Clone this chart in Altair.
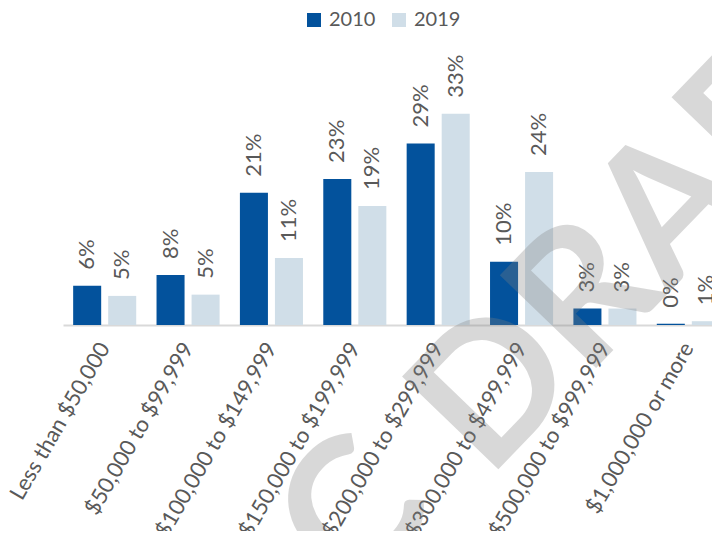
import altair as alt
import pandas as pd

categories = [
    "Less than $50,000",
    "$50,000 to $99,999",
    "$100,000 to $149,999",
    "$150,000 to $199,999",
    "$200,000 to $299,999",
    "$300,000 to $499,999",
    "$500,000 to $999,999",
    "$1,000,000 or more",
]
years = ["2010", "2019"]
values_2010 = [6.2, 7.9, 20.9, 23.1, 28.7, 10.0, 2.6, 0.2]
values_2019 = [4.6, 4.8, 10.6, 18.8, 33.4, 24.2, 2.6, 0.6]
colors = ["#03529C", "#D0DEE8"]
watermark_lead = ["DOC"]
watermark_main = ["DRAFT"]

rows = []
for c, a, b in zip(categories, values_2010, values_2019):
    rows.append({"category": c, "year": years[0], "value": a})
    rows.append({"category": c, "year": years[1], "value": b})
df = pd.DataFrame(rows)

FONT = "Lato"
TXT = "#595959"

x = alt.X(
    "category:N",
    sort=categories,
    scale=alt.Scale(paddingInner=0, paddingOuter=0),
    axis=alt.Axis(
        title=None,
        labelAngle=300,
        labelAlign="right",
        labelBaseline="middle",
        labelFont=FONT,
        labelFontSize=22,
        labelColor=TXT,
        labelPadding=19,
        ticks=False,
        tickSize=0,
        domainColor="#D9D9D9",
        domainWidth=2,
        labelLimit=400,
        labelOverlap=False,
        grid=False,
    ),
)
xo = alt.XOffset("year:N", sort=years, scale=alt.Scale(paddingInner=0.2, paddingOuter=0.29))
y = alt.Y("value:Q", scale=alt.Scale(domain=[0, 40], nice=False), axis=None)
color = alt.Color(
    "year:N",
    sort=years,
    scale=alt.Scale(domain=years, range=colors),
    legend=alt.Legend(
        title=None,
        orient="none",
        direction="horizontal",
        legendX=241,
        legendY=-62,
        symbolType="square",
        symbolSize=196,
        symbolStrokeWidth=0,
        labelFont=FONT,
        labelFontSize=20,
        labelColor=TXT,
        labelOffset=5,
        columnPadding=13,
        padding=0,
    ),
)

bars = alt.Chart(df).mark_bar().encode(x=x, xOffset=xo, y=y, color=color)

labels = (
    alt.Chart(df)
    .transform_calculate(label="format(datum.value, '.0f') + '%'")
    .mark_text(angle=270, align="left", baseline="middle", dx=16, font=FONT, fontSize=22, color=TXT)
    .encode(x=x, xOffset=xo, y=y, text="label:N")
)

wm_style = dict(angle=314, baseline="alphabetic", font=FONT, fontSize=185,
                fontWeight="bold", color="#808080", opacity=0.3)
wm_main = (
    alt.Chart(pd.DataFrame({"t": watermark_main}))
    .mark_text(align="left", **wm_style)
    .encode(x=alt.value(425), y=alt.value(408), text="t:N")
)
wm_lead = (
    alt.Chart(pd.DataFrame({"t": watermark_lead}))
    .mark_text(align="right", **wm_style)
    .encode(x=alt.value(376), y=alt.value(440), text="t:N")
)

chart = (
    alt.layer(bars, labels, wm_lead, wm_main)
    .properties(
        width=667,
        height=253,
        padding={"left": 55, "top": 64, "right": -18, "bottom": 206},
        autosize=alt.AutoSizeParams(type="none"),
    )
    .configure_view(stroke=None)
)

chart.save("out.html", embed_options={"renderer": "svg", "actions": False})
